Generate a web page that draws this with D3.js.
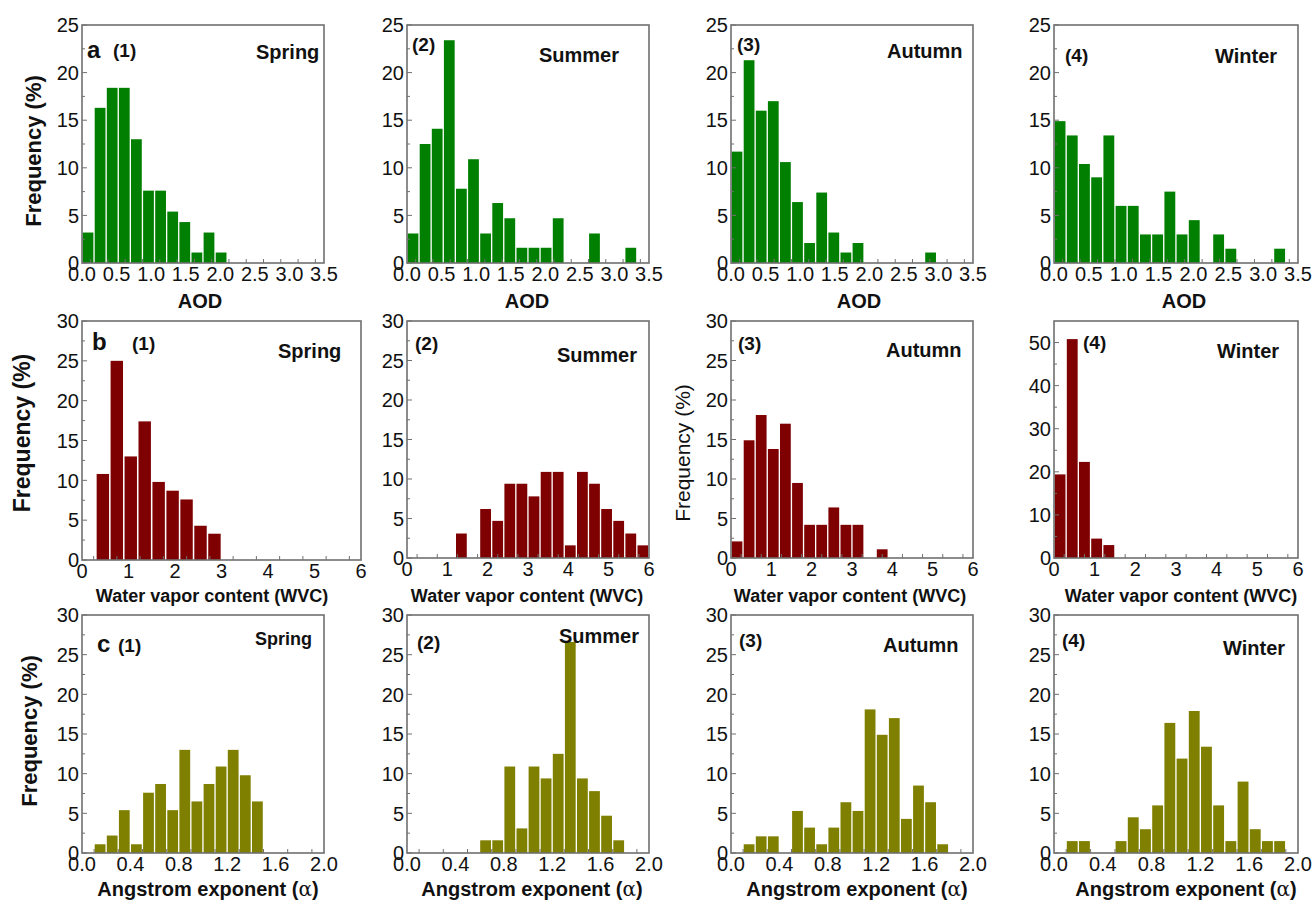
<!DOCTYPE html>
<html>
<head>
<meta charset="utf-8">
<script src="https://cdn.jsdelivr.net/npm/d3@7"></script>
<style>
  body { margin: 0; background: #fff; }
  svg text { font-family: Arial, "Liberation Sans", sans-serif; fill: #111; }
</style>
</head>
<body>
<div id="chart"></div>
<script>
// frequency (%) per bin
const seasons = ['Spring', 'Summer', 'Autumn', 'Winter'];

// AOD, bins of 0.175 from 0 to 3.5
const aodSpring = [3.2, 16.3, 18.4, 18.4, 13.0, 7.6, 7.6, 5.4, 4.3, 1.1, 3.2, 1.1, 0, 0, 0, 0, 0, 0, 0, 0];
const aodSummer = [3.1, 12.5, 14.1, 23.4, 7.8, 10.9, 3.1, 6.3, 4.7, 1.6, 1.6, 1.6, 4.7, 0, 0, 3.1, 0, 0, 1.6, 0];
const aodAutumn = [11.7, 21.3, 16.0, 17.0, 10.6, 6.4, 2.1, 7.4, 3.2, 1.1, 2.1, 0, 0, 0, 0, 0, 1.1, 0, 0, 0];
const aodWinter = [14.9, 13.4, 10.4, 9.0, 13.4, 6.0, 6.0, 3.0, 3.0, 7.5, 3.0, 4.5, 0, 3.0, 1.5, 0, 0, 0, 1.5, 0];

// water vapor content, bins of 0.3 from 0 to 6
const wvcSpring = [0, 10.8, 25.0, 13.0, 17.4, 9.8, 8.7, 7.6, 4.3, 3.3, 0, 0, 0, 0, 0, 0, 0, 0, 0, 0];
const wvcSummer = [0, 0, 0, 0, 3.1, 0, 6.2, 4.7, 9.4, 9.4, 7.8, 10.9, 10.9, 1.6, 10.9, 9.4, 6.2, 4.7, 3.1, 1.6];
const wvcAutumn = [2.1, 14.9, 18.1, 13.8, 17.0, 9.5, 4.2, 4.2, 6.4, 4.2, 4.2, 0, 1.1, 0, 0, 0, 0, 0, 0, 0];
const wvcWinter = [19.4, 50.8, 22.3, 4.5, 3.0, 0, 0, 0, 0, 0, 0, 0, 0, 0, 0, 0, 0, 0, 0, 0];

// angstrom exponent, bins of 0.1 from 0 to 2
const aeSpring = [0, 1.1, 2.2, 5.4, 1.1, 7.6, 8.7, 5.4, 13.0, 6.5, 8.7, 10.9, 13.0, 9.8, 6.5, 0, 0, 0, 0, 0];
const aeSummer = [0, 0, 0, 0, 0, 0, 1.6, 1.6, 10.9, 3.1, 10.9, 9.4, 12.5, 26.6, 9.4, 7.8, 4.7, 1.6, 0, 0];
const aeAutumn = [0, 1.1, 2.1, 2.1, 0, 5.3, 3.2, 1.1, 3.2, 6.4, 5.3, 18.1, 14.9, 17.0, 4.3, 8.5, 6.4, 1.1, 0, 0];
const aeWinter = [0, 1.5, 1.5, 0, 0, 1.5, 4.5, 3.0, 6.0, 16.4, 11.9, 17.9, 13.4, 6.0, 1.5, 9.0, 3.0, 1.5, 1.5, 0];

const aodTicks = [0, 0.5, 1.0, 1.5, 2.0, 2.5, 3.0, 3.5];
const wvcTicks = [0, 1, 2, 3, 4, 5, 6];
const aeTicks = [0, 0.4, 0.8, 1.2, 1.6, 2.0];

const rows = [
  { series: [aodSpring, aodSummer, aodAutumn, aodWinter], xMax: 3.5, bin: 0.175, xTicks: aodTicks, xMinor: 0.25,
    fmt: d3.format('.1f'), yMax: [25, 25, 25, 25], yStep: [5, 5, 5, 5], color: '#007f00', title: 'AOD' },
  { series: [wvcSpring, wvcSummer, wvcAutumn, wvcWinter], xMax: 6, bin: 0.3, xTicks: wvcTicks, xMinor: 0.5,
    fmt: d3.format('d'), yMax: [30, 30, 30, 55], yStep: [5, 5, 5, 10], color: '#7f0000', title: 'Water vapor content (WVC)' },
  { series: [aeSpring, aeSummer, aeAutumn, aeWinter], xMax: 2, bin: 0.1, xTicks: aeTicks, xMinor: 0.2,
    fmt: d3.format('.1f'), yMax: [30, 30, 30, 30], yStep: [5, 5, 5, 5], color: '#7f7f00', title: 'Angstrom exponent (' }
];

// plot boxes [left, right, top, bottom]
const boxes = [
  [[82, 324, 25, 263], [407, 649, 25, 263], [731, 973, 25, 263], [1054, 1298, 25, 263]],
  [[82, 361, 321, 560], [407, 649, 321, 558], [731, 973, 321, 558], [1054, 1298, 321, 558]],
  [[82, 324, 615, 853], [407, 649, 615, 853], [731, 973, 615, 853], [1054, 1298, 615, 853]]
];
// [num x, num y, season x, season y]
const labelPos = [
  [[113, 57, 256, 59], [412, 51, 539, 62], [737, 51, 887, 58], [1065, 62, 1215, 63]],
  [[132, 350, 278, 358], [415, 350, 557, 362], [738, 350, 886, 357], [1083, 349, 1217, 358]],
  [[118, 652, 255, 645], [417, 649, 559, 643], [739, 647, 883, 652], [1062, 647, 1223, 655]]
];
const titleX = [[200, 527, 859, 1184], [212, 527, 850, 1181], [208, 532, 857, 1186]];
const titleY = [308, 602, 896];

const svg = d3.select('#chart').append('svg')
  .attr('width', 1313).attr('height', 905);

const frame = '#707070';

rows.forEach((row, r) => {
  row.series.forEach((vals, c) => {
    const [x0, x1, y0, y1] = boxes[r][c];
    const x = d3.scaleLinear().domain([0, row.xMax]).range([x0, x1]);
    const y = d3.scaleLinear().domain([0, row.yMax[c]]).range([y1, y0]);
    const g = svg.append('g');

    // bars
    const bins = vals.map((v, i) => ({ v: v, lo: i * row.bin }));
    g.selectAll('rect.bar')
      .data(bins.filter(d => d.v > 0))
      .enter().append('rect')
      .attr('class', 'bar')
      .attr('x', d => x(d.lo + row.bin * 0.05))
      .attr('width', x(row.bin * 0.89) - x(0))
      .attr('y', d => y(d.v))
      .attr('height', d => y1 - y(d.v))
      .attr('fill', row.color);

    // ticks (inward)
    const yMajor = d3.range(0, row.yMax[c] + 0.01, row.yStep[c]);
    const yMinor = d3.range(row.yStep[c] / 2, row.yMax[c], row.yStep[c]);
    g.selectAll('line.yt').data(yMajor).enter().append('line')
      .attr('x1', x0).attr('x2', x0 + 5).attr('y1', d => y(d)).attr('y2', d => y(d))
      .attr('stroke', frame).attr('stroke-width', 1);
    g.selectAll('line.ym').data(yMinor).enter().append('line')
      .attr('x1', x0).attr('x2', x0 + 3).attr('y1', d => y(d)).attr('y2', d => y(d))
      .attr('stroke', frame).attr('stroke-width', 1);
    const xMinor = d3.range(row.xMinor / 2, row.xMax, row.xMinor);
    g.selectAll('line.xm').data(xMinor).enter().append('line')
      .attr('x1', d => x(d)).attr('x2', d => x(d)).attr('y1', y1).attr('y2', y1 - 4)
      .attr('stroke', frame).attr('stroke-width', 1);

    // frame
    g.append('rect')
      .attr('x', x0).attr('y', y0).attr('width', x1 - x0).attr('height', y1 - y0)
      .attr('fill', 'none').attr('stroke', frame).attr('stroke-width', 1.6);

    // tick labels
    g.selectAll('text.yl').data(yMajor).enter().append('text')
      .attr('x', x0 - 3).attr('y', d => y(d)).attr('dy', '0.36em')
      .attr('text-anchor', 'end').style('font-size', '20px')
      .text(d => d);
    g.selectAll('text.xl').data(row.xTicks).enter().append('text')
      .attr('x', d => x(d)).attr('y', y1 + 18)
      .attr('text-anchor', 'middle').style('font-size', '20px')
      .text(d => row.fmt(d));

    // panel number and season
    const lp = labelPos[r][c];
    g.append('text').attr('x', lp[0]).attr('y', lp[1])
      .style('font-size', '19px').style('font-weight', 'bold')
      .text('(' + (c + 1) + ')');
    g.append('text').attr('x', lp[2]).attr('y', lp[3])
      .style('font-size', (r === 2 && c === 0) ? '18px' : '20px').style('font-weight', 'bold')
      .text(seasons[c]);

    // x-axis title
    const t = g.append('text').attr('x', titleX[r][c]).attr('y', titleY[r])
      .attr('text-anchor', 'middle').style('font-weight', 'bold')
      .style('font-size', r === 1 ? '18px' : '20px')
      .text(row.title);
    if (r === 2) {
      t.append('tspan').style('font-family', '"DejaVu Serif", serif').style('font-weight', 'normal').text('\u03b1');
      t.append('tspan').text(')');
    }
  });
});

// row letters
svg.append('text').attr('x', 87).attr('y', 58).style('font-size', '24px').style('font-weight', 'bold').text('a');
svg.append('text').attr('x', 92).attr('y', 350).style('font-size', '24px').style('font-weight', 'bold').text('b');
svg.append('text').attr('x', 97).attr('y', 652).style('font-size', '24px').style('font-weight', 'bold').text('c');

// y-axis titles
const yTitles = [
  { x: 33, y: 151, size: 22, weight: 'bold' },
  { x: 22, y: 433, size: 23, weight: 'bold' },
  { x: 683, y: 453, size: 21, weight: 'normal' },
  { x: 29, y: 731, size: 22, weight: 'bold' }
];
svg.selectAll('text.ytitle').data(yTitles).enter().append('text')
  .attr('class', 'ytitle')
  .attr('transform', d => 'translate(' + d.x + ',' + d.y + ') rotate(-90)')
  .attr('dy', '0.35em')
  .attr('text-anchor', 'middle')
  .style('font-size', d => d.size + 'px')
  .style('font-weight', d => d.weight)
  .text('Frequency (%)');
</script>
</body>
</html>
